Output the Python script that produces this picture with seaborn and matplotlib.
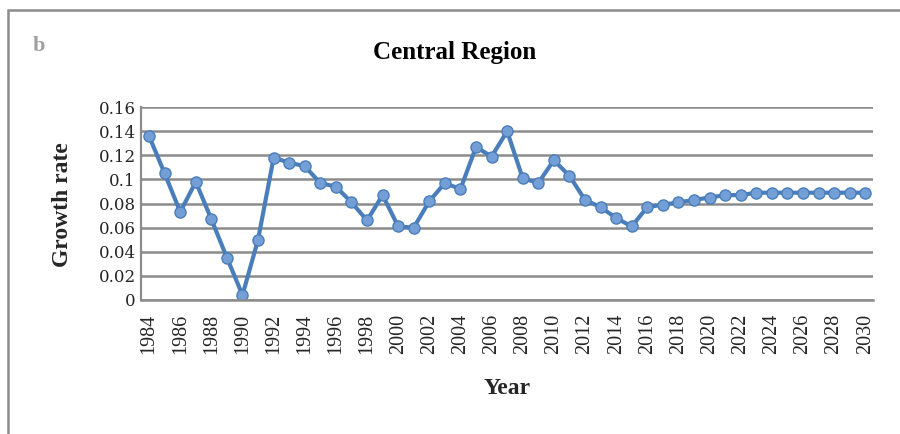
import numpy as np
import pandas as pd
import seaborn as sns
import matplotlib.pyplot as plt
from matplotlib.patches import Rectangle

# Values
years = list(range(1984, 2031))
growth = [0.136, 0.105, 0.073, 0.098, 0.067, 0.035, 0.004, 0.050, 0.118, 0.114,
          0.111, 0.097, 0.094, 0.081, 0.066, 0.087, 0.061, 0.060, 0.082, 0.097,
          0.092, 0.127, 0.119, 0.140, 0.101, 0.097, 0.116, 0.103, 0.083, 0.077,
          0.068, 0.061, 0.077, 0.079, 0.081, 0.083, 0.085, 0.087, 0.087, 0.089,
          0.089, 0.089, 0.089, 0.089, 0.089, 0.089, 0.089]
y_ticks = [0, 0.02, 0.04, 0.06, 0.08, 0.1, 0.12, 0.14, 0.16]
y_tick_labels = ["0", "0.02", "0.04", "0.06", "0.08", "0.1", "0.12", "0.14", "0.16"]
x_ticks = list(range(1984, 2031, 2))

df = pd.DataFrame({"Year": years, "Growth rate": growth})

sns.set_style("white")
fig = plt.figure(figsize=(9, 4.34), dpi=100)
ax = fig.add_axes([0.157, 0.309, 0.813, 0.444])

sns.lineplot(data=df, x="Year", y="Growth rate", ax=ax, color="#4a7ebb",
             linewidth=3, marker="o", markersize=8, markerfacecolor="#739fd6",
             markeredgecolor="#4a7ebb", markeredgewidth=1)

ax.set_xlim(1983.5, 2030.5)
ax.set_ylim(0, 0.16)
ax.set_yticks(y_ticks)
ax.set_yticklabels(y_tick_labels, fontsize=12, family="DejaVu Serif")
ax.set_xticks(x_ticks)
ax.set_xticklabels([str(x) for x in x_ticks], rotation=90, fontsize=14.5,
                   family="Liberation Serif")
ax.yaxis.grid(True, color="#8c8c8c", linewidth=1.8)
ax.set_axisbelow(True)
for side in ["top", "right"]:
    ax.spines[side].set_visible(False)
ax.spines["left"].set_color("#8c8c8c")
ax.spines["left"].set_linewidth(1.6)
ax.spines["bottom"].set_color("#8c8c8c")
ax.spines["bottom"].set_linewidth(1.8)
ax.tick_params(axis="y", length=0, pad=4)
ax.tick_params(axis="x", length=0, pad=10)

ax.set_xlabel("")
ax.set_ylabel("")
fig.text(0.564, 0.105, "Year", ha="center", va="center", fontsize=17,
         fontweight="bold", family="Liberation Serif")
fig.text(0.069, 0.528, "Growth rate", ha="center", va="center", rotation=90,
         fontsize=17, fontweight="bold", family="Liberation Serif")
fig.text(0.505, 0.88, "Central Region", ha="center", va="center", fontsize=18,
         fontweight="bold", family="Liberation Serif", color="black")
fig.text(0.043, 0.895, "b", ha="center", va="center", fontsize=16,
         fontweight="bold", color="#a0a0a0", family="Liberation Serif")

# chart area border, cut off at right and bottom like the reference
fig.patches.append(Rectangle((0.009, -0.05), 1.05, 1.027, transform=fig.transFigure,
                             fill=False, edgecolor="#8c8c8c", linewidth=1.8))

fig.savefig("out.png", dpi=100)
